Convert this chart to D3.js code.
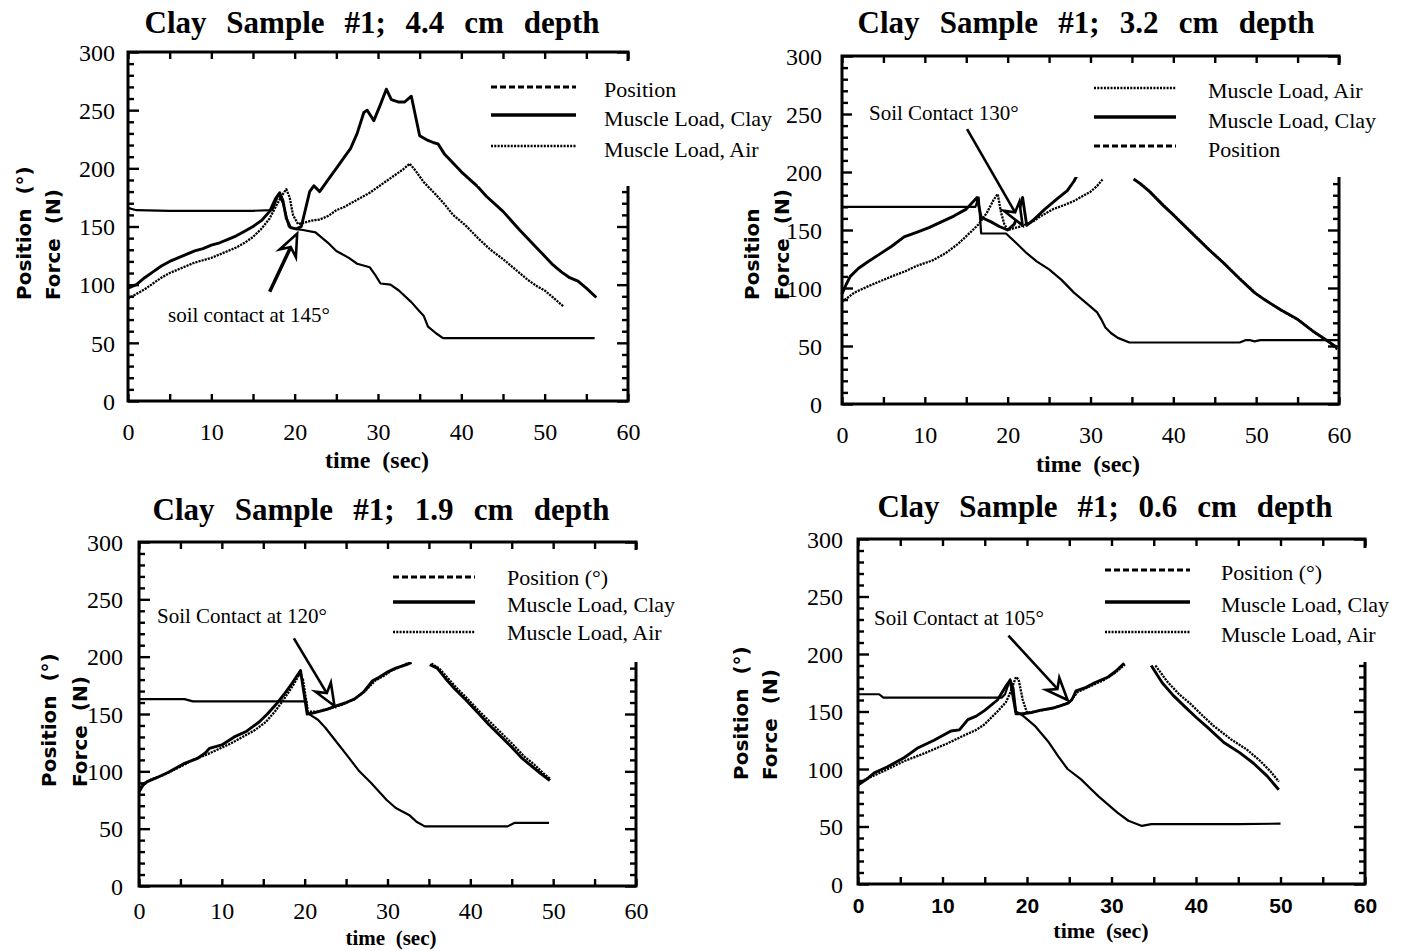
<!DOCTYPE html>
<html><head><meta charset="utf-8">
<script src="https://cdn.jsdelivr.net/npm/d3@7"></script>
<style>body{margin:0;background:#fff}svg{display:block}text{white-space:pre}</style>
</head><body>
<svg id="c" width="1418" height="951"></svg>
<script>
// ---------- DATA ----------
const xTickLabels = [0,10,20,30,40,50,60];
const yTickLabels = [0,50,100,150,200,250,300];
const titles = ["Clay Sample #1; 4.4 cm depth","Clay Sample #1; 3.2 cm depth","Clay Sample #1; 1.9 cm depth","Clay Sample #1; 0.6 cm depth"];
const xTitle = "time  (sec)";
const yTitles = [["Position  (°)","Force  (N)"],["Position","Force  (N)"],["Position  (°)","Force  (N)"],["Position  (°)","Force  (N)"]];
const legendNames = [
  ["Position","Muscle Load, Clay","Muscle Load, Air"],
  ["Muscle Load, Air","Muscle Load, Clay","Position"],
  ["Position (°)","Muscle Load, Clay","Muscle Load, Air"],
  ["Position (°)","Muscle Load, Clay","Muscle Load, Air"]];
const legendKinds = [["pos","clay","air"],["air","clay","pos"],["pos","clay","air"],["pos","clay","air"]];
const notes = ["soil contact at 145°","Soil Contact 130°","Soil Contact at 120°","Soil Contact at 105°"];
// arrow tail / tip in data units [time, value]
const arrows = [[[17,94],[20.3,144]],[[15.1,237],[21.8,154]],[[18.7,216],[23.6,157]],[[17.8,216],[24.8,160]]];

// Panel 1 (4.4 cm)
const pos1 = [[0,166],[1,164],[5,163.5],[10,163.5],[15,163.5],[17.3,164],[18.1,178],[18.6,170],[19.3,150],[20,148],[21,147],[22.5,145],[24,136],[25,129],[26.5,123],[27.5,118],[29,115],[29.7,108],[30.3,101],[31.5,100],[32.5,95],[34,85],[35,77],[35.5,73],[36,64],[37,58],[37.8,54],[40,54],[45,54],[50,54],[56,54]];
const clay1 = [[0,97],[1,100],[2,106],[3,111],[4,116],[5,120],[6,123],[7,126],[8,129],[9,131],[10,134],[11,136],[12,139],[13,142],[14,146],[15,150],[16,155],[17,163],[17.7,174],[18.2,179],[18.6,172],[19,157],[19.5,149],[20.2,148],[20.8,150],[21.3,165],[21.8,180],[22.3,185],[23,180],[24,190],[25,200],[26,210],[26.7,217],[27.5,230],[28.3,248],[28.7,250],[29.5,241],[30.3,255],[31,268],[31.6,259],[32.5,257],[33.2,257],[34,262],[34.5,245],[35,228],[36,224],[36.7,222],[37.2,221],[38,212],[40,197],[42,184],[43,176],[45,163],[47,147],[49,132],[51,117],[52,111],[53,106],[54,103],[55,97],[56.2,89]];
const air1 = [[0,88],[1,92],[2,96],[3,101],[4,106],[5,110],[6,113],[7,116],[8,119],[9,121],[10,123],[11,126],[12,129],[13,132],[14,136],[15,141],[16,148],[17,157],[17.8,168],[18.5,177],[19,182],[19.4,175],[19.8,160],[20.4,152],[21,153],[22,155],[23,156],[24,159],[25,164],[26,167],[27,171],[28,175],[29,179],[30,184],[31,189],[32,194],[33,199],[33.8,204],[34.5,198],[35.5,188],[37,177],[38,169],[39,160],[40.5,151],[42,140],[43.5,130],[45,122],[46,116],[47,110],[48,104],[49,99],[50,95],[51,89],[52.3,81]];

// Panel 2 (3.2 cm)
const pos2 = [[0,170],[5,170],[10,170],[15,170],[16.1,170],[16.5,178],[16.8,147],[18,147],[19.8,147],[21,139],[22.3,130],[23.5,123],[25,116],[26.5,107],[28,96],[29,90],[30,84],[30.8,79],[31.3,73],[31.8,66],[32.5,61],[33.3,57],[34.7,53],[40,53],[45,53],[48,53],[48.7,55],[49.3,55],[49.8,54],[50.5,55],[55,55],[60,55]];
const clay2 = [[0,95],[0.5,103],[1,110],[2,117],[3,122],[4.5,129],[6,136],[7.5,144],[9,148],[10.5,152],[12,157],[13.5,162],[15,168],[16.3,178],[16.8,161],[18,157],[19,153],[20,150],[20.8,155],[21.3,165],[21.8,178],[22.3,154],[23,158],[24.5,168],[26,177],[27.2,184],[28,192],[28.6,200],null,[35.2,194],[36,190],[37,184],[38.8,171],[40,163],[42,149],[44.3,133],[46,122],[48,108],[49.8,96],[51,90],[53,81],[55,73],[57,62],[58.5,55],[59.7,49]];
const air2 = [[0,88],[1.5,96],[3,101],[4,104],[6,110],[7.5,114],[9,119],[11,124],[12.5,130],[14,138],[15.5,148],[16.5,155],[17.5,165],[18.3,176],[18.8,181],[19.2,165],[19.6,155],[20,150],[21.5,153],[23,157],[24,162],[25.5,168],[27,172],[28,175],[29,179],[30,183],[30.8,188],[31.5,194],null,[35.4,193],[36.2,189],[37.2,183],[39,170],[40.2,162],[42.2,148],[44.5,132],[46.2,121],[48.2,107],[50,95],[51.2,89],[53.2,80],[55.2,72],[57.2,61],[58.7,54],[59.8,47]];

// Panel 3 (1.9 cm)
const pos3 = [[0,163],[5.5,163],[6.5,161],[10,161],[15,161],[19.5,161],[20.2,161],[20.3,151],[21.6,145],[22.5,138],[23.8,126],[25,115],[26.6,100],[28,90],[29.9,75],[31,68],[32.6,62],[33.5,56],[34.5,52],[38,52],[44.5,52],[45.3,55],[49.5,55]];
const clay3 = [[0,82],[0.5,88],[1,91],[2,94],[3.5,99],[5.5,107],[7,111],[8,116],[8.5,120],[10,123],[11.5,130],[13,135],[14.5,143],[15.5,150],[16.5,158],[17.5,167],[18.5,177],[19.5,188],[20.3,150],[21.1,151],[22.7,154],[23.8,157],[25,160],[26,163],[27.1,169],[28.2,179],[29,182],[30.1,187],[31,190],[32.3,193],[32.9,195],null,[35.1,193],[36,190],[37,181],[38.1,172],[39.5,162],[40.8,152],[42.2,141],[43.6,131],[45,121],[46.3,111],[47.5,104],[48.5,98],[49.6,92]];
const air3 = [[0,86],[0.7,90],[1.5,93],[3,97],[5,104],[6.5,110],[8,114],[9.5,119],[11,124],[12.5,130],[14,136],[15.3,143],[16.5,153],[17.5,163],[18.6,175],[19.4,185],[19.8,180],[20.4,152],[21.5,152],[23,155],[24.5,158],[26,163],[27.3,170],[28.5,179],[29.5,183],[30.5,188],[31.5,191],[32.6,195],null,[35.3,194],[36.2,190],[37.2,182],[38.3,173],[39.7,163],[41,153],[42.4,143],[43.8,133],[45.2,123],[46.5,113],[47.7,106],[48.7,99],[49.7,93]];

// Panel 4 (0.6 cm)
const pos4 = [[0,165],[2.5,165],[3,162],[10,162],[17,162],[17.4,165],[18,178],[18.4,170],[18.7,150],[19.4,147],[21,137],[22.6,123],[23.7,111],[24.8,100],[26.4,91],[27.5,83],[28.5,76],[29.6,69],[30.7,62],[32,55],[33.6,50.5],[34.7,52],[40,52],[45,52],[50,52.5]];
const clay4 = [[0,86],[1,91],[2,97],[3.5,102],[5.5,110],[7,118],[9,125],[11,133],[12,134],[13,143],[14,146],[15,151],[16.5,160],[17.5,172],[18,177],[18.3,165],[18.7,148],[19.5,148],[20.5,149],[21.5,151],[23.1,153],[24.8,157],[25.3,160],[25.8,168],[27,171],[28,175],[29.6,180],[30.5,185],[31.5,192],null,[34.7,190],[36,175],[37.3,164],[38.7,154],[40,145],[41.4,136],[43.3,123],[45.2,114],[46.8,105],[48.4,94],[49.8,82]];
const air4 = [[0,88],[1.5,93],[3,98],[5.5,107],[8,114],[10.5,122],[12.5,129],[14,134],[15,139],[16.5,150],[17.5,158],[18,166],[18.7,180],[19,178],[19.5,160],[20,149],[21,150],[22.5,152],[24,155],[25,158],[26,167],[27.5,172],[29,177],[30.5,184],[31.6,191],null,[35.2,190],[36.6,176],[38,165],[39.3,157],[40.7,147],[42,138],[44.1,126],[46,117],[47.6,107],[48.8,98],[49.8,89]];

const seriesSets = [{pos:pos1,clay:clay1,air:air1},{pos:pos2,clay:clay2,air:air2},{pos:pos3,clay:clay3,air:air3},{pos:pos4,clay:clay4,air:air4}];

// ---------- LAYOUT ----------
const layouts = [
 {l:128,r:628,t:52,b:401, box:[478,61,162,125], yt:[31,60], ytB:300, yLabR:115, xLabB:440, xt:[377,468,24], title:[372,33,455],
  lg:{x0:491,x1:576,tx:604,rows:[[87,97],[115,126],[146,157]]}, note:[168,322]},
 {l:842,r:1339,t:56,b:404, box:[852,65,566,112], yt:[759,789], ytB:300, yLabR:822, xLabB:443, xt:[1088,472,24], title:[1086,33,457],
  lg:{x0:1094,x1:1176,tx:1208,rows:[[88,98],[117,128],[146,157]]}, note:[869,120]},
 {l:139,r:636,t:542,b:886, box:[150,550,560,112], yt:[56,87], ytB:787, yLabR:123, xLabB:919, xt:[391,945,21], title:[381,520,457],
  lg:{x0:393,x1:475,tx:507,rows:[[577,585],[602,612],[632,640]]}, note:[157,623]},
 {l:858,r:1365,t:539,b:884, box:[870,548,548,114], yt:[748,777], ytB:780, yLabR:843, xLabB:913, xt:[1101,938,22], title:[1105,517,455],
  lg:{x0:1105,x1:1190,tx:1221,rows:[[570,580],[602,612],[632,642]]}, note:[874,625], sansX:true}
];

const styles = {
  pos:{w:2.2, dash:null, lw:3, ldash:"6,3"},
  clay:{w:2.9, dash:null, lw:3.5, ldash:null},
  air:{w:2.3, dash:"2.2,1", lw:2.4, ldash:"2,1.3"}
};
const serif = "'Liberation Serif','Times New Roman',serif";

const svg = d3.select('#c');

layouts.forEach((P,i)=>{
  const g = svg.append('g');
  const x = d3.scaleLinear([0,60],[P.l,P.r]);
  const y = d3.scaleLinear([0,300],[P.b,P.t]);
  const tickStyle = s => { s.select('.domain').remove(); s.selectAll('line').attr('stroke','#000').attr('stroke-width',2.4); };
  const x5 = d3.range(0,61,5), yMinor = d3.range(0,301,10).filter(v=>v%50), yMajor = yTickLabels;
  g.append('g').attr('transform',`translate(0,${P.b})`).call(d3.axisBottom(x).tickValues(x5).tickSize(-7).tickFormat('')).call(tickStyle);
  g.append('g').attr('transform',`translate(0,${P.t})`).call(d3.axisTop(x).tickValues(x5).tickSize(-7).tickFormat('')).call(tickStyle);
  g.append('g').attr('transform',`translate(${P.l},0)`).call(d3.axisLeft(y).tickValues(yMinor).tickSize(-6).tickFormat('')).call(tickStyle);
  g.append('g').attr('transform',`translate(${P.l},0)`).call(d3.axisLeft(y).tickValues(yMajor).tickSize(-11).tickFormat('')).call(tickStyle);
  g.append('g').attr('transform',`translate(${P.r},0)`).call(d3.axisRight(y).tickValues(yMinor).tickSize(-6).tickFormat('')).call(tickStyle);
  g.append('g').attr('transform',`translate(${P.r},0)`).call(d3.axisRight(y).tickValues(yMajor).tickSize(-11).tickFormat('')).call(tickStyle);
  // frame
  g.append('rect').attr('x',P.l).attr('y',P.t).attr('width',P.r-P.l).attr('height',P.b-P.t)
    .attr('fill','none').attr('stroke','#000').attr('stroke-width',3);
  // tick labels
  const xl = g.append('g').attr('transform',`translate(0,${P.b})`)
    .call(d3.axisBottom(x).tickValues(xTickLabels).tickSize(0).tickFormat(d3.format('d')));
  xl.select('.domain').remove();
  xl.selectAll('text').attr('y',P.xLabB-P.b).attr('dy',null)
    .attr('font-family', P.sansX ? "'Liberation Sans',Arial,sans-serif" : serif)
    .attr('font-weight', P.sansX ? 'bold':'normal')
    .attr('font-size', P.sansX ? 21 : 24).attr('fill','#000');
  const yl = g.append('g').attr('transform',`translate(${P.l},0)`)
    .call(d3.axisLeft(y).tickValues(yTickLabels).tickSize(0).tickPadding(P.l-P.yLabR).tickFormat(d3.format('d')));
  yl.select('.domain').remove();
  yl.selectAll('text').attr('dy','0.34em').attr('font-family',serif).attr('font-size',24).attr('fill','#000');
  // axis titles
  g.append('text').attr('x',P.xt[0]).attr('y',P.xt[1]).attr('text-anchor','middle')
    .attr('font-family',serif).attr('font-weight','bold').attr('font-size',P.xt[2]).text(xTitle);
  yTitles[i].forEach((t,k)=>{
    g.append('text').attr('transform',`translate(${P.yt[k]},${P.ytB}) rotate(-90)`)
      .attr('text-anchor','start').attr('font-family',"'DejaVu Sans',sans-serif").attr('font-weight','bold')
      .attr('font-size',20).text(t);
  });
  // title
  const tt = g.append('text').attr('x',P.title[0]).attr('y',P.title[1]).attr('text-anchor','middle')
    .attr('font-family',serif).attr('font-weight','bold').attr('font-size',31).text(titles[i]);
  const w = tt.node().getComputedTextLength();
  tt.attr('word-spacing', Math.max(0,(P.title[2]-w)/5));
  // data
  const line = d3.line().defined(d=>d!==null).x(d=>x(d[0])).y(d=>y(d[1]));
  const S = seriesSets[i];
  ['air','pos','clay'].forEach(k=>{
    g.append('path').attr('d',line(S[k])).attr('fill','none').attr('stroke','#000')
      .attr('stroke-width',styles[k].w).attr('stroke-dasharray',styles[k].dash)
      .attr('stroke-linejoin','round');
  });
  // legend box (white, occludes plot)
  g.append('rect').attr('x',P.box[0]).attr('y',P.box[1]).attr('width',P.box[2]).attr('height',P.box[3]).attr('fill','#fff');
  legendKinds[i].forEach((k,j)=>{
    const [ly,tb] = P.lg.rows[j];
    g.append('line').attr('x1',P.lg.x0).attr('x2',P.lg.x1).attr('y1',ly).attr('y2',ly)
      .attr('stroke','#000').attr('stroke-width',styles[k].lw).attr('stroke-dasharray',styles[k].ldash);
    g.append('text').attr('x',P.lg.tx).attr('y',tb).attr('font-family',serif).attr('font-size',22).text(legendNames[i][j]);
  });
  // annotation
  g.append('text').attr('x',P.note[0]).attr('y',P.note[1]).attr('font-family',serif).attr('font-size',21).text(notes[i]);
  const [a0,a1] = arrows[i];
  const p0=[x(a0[0]),y(a0[1])], p1=[x(a1[0]),y(a1[1])];
  const dx=p1[0]-p0[0], dy=p1[1]-p0[1], L=Math.hypot(dx,dy), u=[dx/L,dy/L], n=[-u[1],u[0]];
  const HL=22, HW=9, NT=7;
  const c=[p1[0]-u[0]*HL, p1[1]-u[1]*HL];
  const notch=[p1[0]-u[0]*(HL-NT), p1[1]-u[1]*(HL-NT)];
  g.append('line').attr('x1',p0[0]).attr('y1',p0[1]).attr('x2',notch[0]).attr('y2',notch[1])
    .attr('stroke','#000').attr('stroke-width',i===0?3.5:2.6);
  g.append('path').attr('d',d3.line()([p1,[c[0]+n[0]*HW,c[1]+n[1]*HW],notch,[c[0]-n[0]*HW,c[1]-n[1]*HW]])+'Z')
    .attr('fill','#fff').attr('stroke','#000').attr('stroke-width',2.6).attr('stroke-linejoin','miter');
});
</script>
</body></html>
